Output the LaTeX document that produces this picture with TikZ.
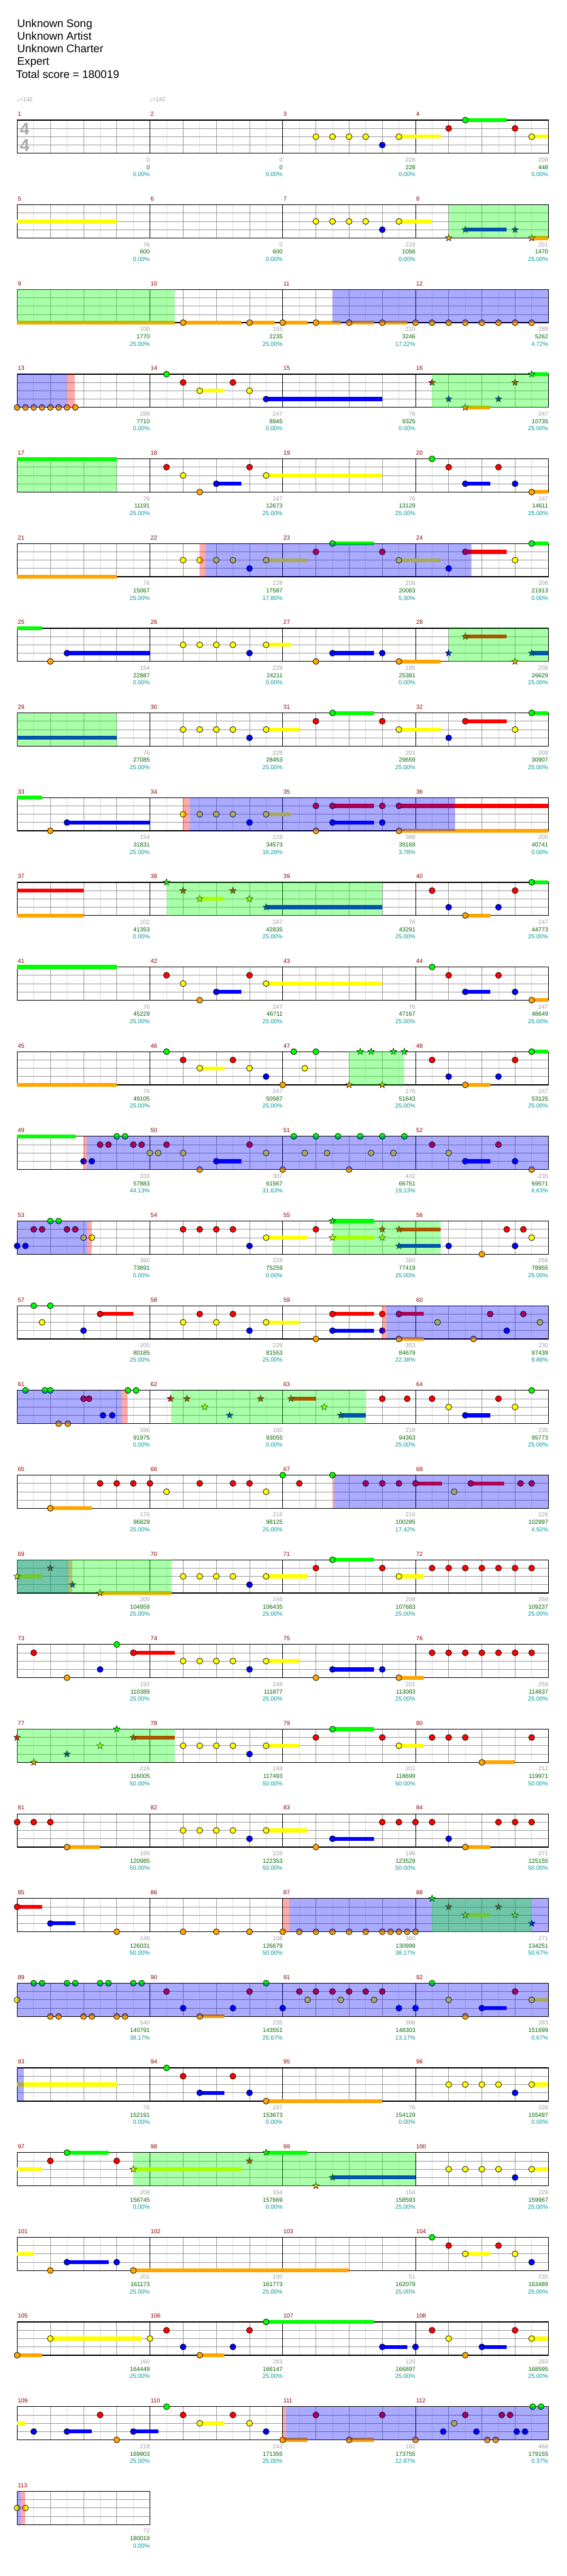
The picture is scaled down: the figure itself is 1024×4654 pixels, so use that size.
\documentclass[tikz,border=0pt]{standalone}
\usepackage{fontspec}
\setmainfont{Liberation Sans}
\newfontfamily\symf{DejaVu Sans}
\newcommand\smallf{\fontsize{10.7}{12}\selectfont}
\newcommand\hdrf{\fontsize{20}{23}\selectfont}
\definecolor{lc0}{RGB}{0,255,0}
\definecolor{lc1}{RGB}{255,0,0}
\definecolor{lc2}{RGB}{255,255,0}
\definecolor{lc3}{RGB}{0,0,255}
\definecolor{lc4}{RGB}{255,165,0}
\definecolor{mred}{RGB}{139,0,0}
\definecolor{sgray}{RGB}{160,160,160}
\definecolor{sgreen}{RGB}{0,100,0}
\definecolor{steal}{RGB}{0,150,150}
\definecolor{hbc}{RGB}{222,222,222}
\definecolor{gridc}{RGB}{153,153,153}
\definecolor{tsgray}{RGB}{170,170,170}
\tikzset{
  hbeat/.style={draw=hbc,line width=0.9pt},
  lanel/.style={draw=gridc,line width=0.9pt},
  beatl/.style={draw=gridc,line width=0.9pt},
  measl/.style={draw=black,line width=0.9pt},
  borderl/.style={draw=black,line width=1.4pt},
  mnum/.style={anchor=base west,font=\smallf,text=mred,inner sep=0pt,xshift=1pt,yshift=7pt},
  st1/.style={anchor=base east,font=\smallf,text=sgray,inner sep=0pt,yshift=-15.5pt},
  st2/.style={anchor=base east,font=\smallf,text=sgreen,inner sep=0pt,yshift=-29pt},
  st3/.style={anchor=base east,font=\smallf,text=steal,inner sep=0pt,yshift=-42pt},
  hdr/.style={anchor=base west,font=\hdrf,inner sep=0pt},
  tempo/.style={anchor=base west,font=\smallf,text=sgray,inner sep=0pt},
  tsig/.style={font=\fontsize{31}{31}\selectfont\bfseries,text=tsgray,inner sep=0pt}
}
\newcommand\Nt[2]{\filldraw[fill=lc#2,draw=black,line width=0.8pt] (#1,#2) circle[radius=5.4pt];}
\newcommand\Sr[2]{\begin{scope}[shift={(#1,#2)}]\filldraw[fill=lc#2,draw=black,line width=0.6pt] (90:6.3pt)--(126:2.6pt)--(162:6.3pt)--(198:2.6pt)--(234:6.3pt)--(270:2.6pt)--(306:6.3pt)--(342:2.6pt)--(18:6.3pt)--(54:2.6pt)--cycle;\end{scope}}
\newcommand\Su[3]{\draw[lc#3,line width=7pt] (#1,#3) -- (#2,#3);}
\newcommand\GZ[2]{\fill[lc0,opacity=0.333] (#1,0) rectangle (#2,4);}
\newcommand\BZ[2]{\fill[lc3,opacity=0.333] (#1,0) rectangle (#2,4);}
\newcommand\PZ[2]{\fill[lc1,opacity=0.333] (#1,0) rectangle (#2,4);}
\newcommand\Sc[4]{\node[st1] at ({8*#1},4) {#2};\node[st2] at ({8*#1},4) {#3};\node[st3] at ({8*#1},4) {#4\%};}
\newcommand\ChartRow[7]{%
\begin{scope}[shift={(31pt,{-217pt-153pt*(#1-1)})},x=30pt,y=-15pt]
\pgfmathtruncatemacro\nh{8*#3}%
\pgfmathtruncatemacro\nhm{\nh-1}%
\foreach \i in {1,3,...,\nhm} \draw[hbeat] (\i,0) -- (\i,4);
\foreach \l in {1,2,3} \draw[lanel] (0,\l) -- (\nh,\l);
\foreach \i in {2,4,...,\nh} \draw[beatl] (\i,0) -- (\i,4);
\ifnum#3>1 \foreach \i in {8,16,24} \draw[measl] (\i,0) -- (\i,4);\fi
\draw[borderl] (0,0) rectangle (\nh,4);
#4
#5
#6
\foreach \k in {1,...,#3} {\pgfmathtruncatemacro\mn{#2+\k-1}\node[mnum] at ({8*(\k-1)},0) {\mn};}
#7
\end{scope}}
\begin{document}
\begin{tikzpicture}[x=1pt,y=-1pt]
\useasboundingbox (0,0) rectangle (1024,4654);
\fill[white] (0,0) rectangle (1024,4654);
\node[hdr] (title) at (31,49) {Unknown Song};
\node[hdr] (artist) at (31,72) {Unknown Artist};
\node[hdr] (charter) at (31,95) {Unknown Charter};
\node[hdr] (diff) at (31,118) {Expert};
\node[hdr] (total) at (29,141) {Total score = 180019};
\node[tempo] (tA) at (30,184) {{\symf ♩}=142};
\node[tempo] (tB) at (270,184) {{\symf ♩}=142};
% Row 1
\ChartRow{1}{1}{4}{\node[tsig] (tsA) at (0.45,1.1) {4};\node[tsig] (tsB) at (0.45,3.07) {4};
\Su{23}{25.5}{2}\Su{27}{29.5}{0}\Su{31}{32}{2}}
{\Nt{18}{2}\Nt{19}{2}\Nt{20}{2}\Nt{21}{2}\Nt{22}{3}\Nt{23}{2}\Nt{26}{1}\Nt{27}{0}\Nt{30}{1}\Nt{31}{2}}
{}
{\Sc{1}{0}{0}{0.00}\Sc{2}{0}{0}{0.00}\Sc{3}{228}{228}{0.00}\Sc{4}{208}{448}{0.00}}
% Row 2
\ChartRow{2}{5}{4}{\Su{0}{6}{2}\Su{23}{25}{2}\Su{27}{29.5}{3}\Su{31}{32}{4}}
{\Nt{18}{2}\Nt{19}{2}\Nt{20}{2}\Nt{21}{2}\Nt{22}{3}\Nt{23}{2}\Sr{26}{4}\Sr{27}{3}\Sr{30}{3}\Sr{31}{4}}
{\GZ{26}{32}}
{\Sc{1}{76}{600}{0.00}\Sc{2}{0}{600}{0.00}\Sc{3}{228}{1056}{0.00}\Sc{4}{201}{1470}{25.00}}
% Row 3
\ChartRow{3}{9}{4}{\Su{0}{9.5}{4}\Su{10}{13.5}{4}\Su{14}{15.5}{4}\Su{16}{17.5}{4}\Su{18}{19.5}{4}\Su{20}{21.5}{4}\Su{22}{23.5}{4}}
{\Nt{10}{4}\Nt{14}{4}\Nt{16}{4}\Nt{18}{4}\Nt{20}{4}\Nt{22}{4}\Nt{24}{4}\Nt{25}{4}\Nt{26}{4}\Nt{27}{4}\Nt{28}{4}\Nt{29}{4}\Nt{30}{4}\Nt{31}{4}}
{\GZ{0}{9.5}\BZ{19}{32}}
{\Sc{1}{100}{1770}{25.00}\Sc{2}{155}{2235}{25.00}\Sc{3}{220}{3246}{17.22}\Sc{4}{288}{5262}{4.72}}
% Row 4
\ChartRow{4}{13}{4}{\Su{11}{12.5}{2}\Su{15}{22}{3}\Su{27}{28.5}{4}\Su{31}{32}{0}}
{\Nt{0}{4}\Nt{0.5}{4}\Nt{1}{4}\Nt{1.5}{4}\Nt{2}{4}\Nt{2.5}{4}\Nt{3}{4}\Nt{3.5}{4}\Nt{9}{0}\Nt{10}{1}\Nt{11}{2}\Nt{13}{1}\Nt{14}{2}\Nt{15}{3}\Sr{25}{1}\Sr{26}{3}\Sr{27}{4}\Sr{29}{3}\Sr{30}{1}\Sr{31}{0}}
{\BZ{0}{3}\PZ{3}{3.47}\GZ{25}{32}}
{\Sc{1}{288}{7710}{0.00}\Sc{2}{247}{8945}{0.00}\Sc{3}{76}{9325}{0.00}\Sc{4}{247}{10735}{25.00}}
% Row 5
\ChartRow{5}{17}{4}{\Su{0}{6}{0}\Su{12}{13.5}{3}\Su{15}{22}{2}\Su{27}{28.5}{3}\Su{31}{32}{4}}
{\Nt{9}{1}\Nt{10}{2}\Nt{11}{4}\Nt{12}{3}\Nt{14}{1}\Nt{15}{2}\Nt{25}{0}\Nt{26}{1}\Nt{27}{3}\Nt{29}{1}\Nt{30}{3}\Nt{31}{4}}
{\GZ{0}{6}}
{\Sc{1}{76}{11191}{25.00}\Sc{2}{247}{12673}{25.00}\Sc{3}{76}{13129}{25.00}\Sc{4}{247}{14611}{25.00}}
% Row 6
\ChartRow{6}{21}{4}{\Su{0}{6}{4}\Su{15}{17.5}{2}\Su{19}{21.5}{0}\Su{23}{25.5}{2}\Su{27}{29.5}{1}\Su{31}{32}{0}}
{\Nt{10}{2}\Nt{11}{2}\Nt{12}{2}\Nt{13}{2}\Nt{14}{3}\Nt{15}{2}\Nt{18}{1}\Nt{19}{0}\Nt{22}{1}\Nt{23}{2}\Nt{26}{3}\Nt{27}{1}\Nt{30}{2}\Nt{31}{0}}
{\PZ{11}{11.37}\BZ{11.37}{27.37}}
{\Sc{1}{76}{15067}{25.00}\Sc{2}{228}{17587}{17.80}\Sc{3}{208}{20083}{5.30}\Sc{4}{208}{21913}{0.00}}
% Row 7
\ChartRow{7}{25}{4}{\Su{0}{1.5}{0}\Su{3}{8}{3}\Su{15}{16.5}{2}\Su{19}{21.5}{3}\Su{23}{25.5}{4}\Su{27}{29.5}{1}\Su{31}{32}{3}}
{\Nt{2}{4}\Nt{3}{3}\Nt{10}{2}\Nt{11}{2}\Nt{12}{2}\Nt{13}{2}\Nt{14}{3}\Nt{15}{2}\Nt{18}{4}\Nt{19}{3}\Nt{22}{3}\Nt{23}{4}\Sr{26}{3}\Sr{27}{1}\Sr{30}{4}\Sr{31}{3}}
{\GZ{26}{32}}
{\Sc{1}{154}{22887}{0.00}\Sc{2}{229}{24211}{0.00}\Sc{3}{195}{25381}{0.00}\Sc{4}{208}{26629}{25.00}}
% Row 8
\ChartRow{8}{29}{4}{\Su{0}{6}{3}\Su{15}{17}{2}\Su{19}{21.5}{0}\Su{23}{25.5}{2}\Su{27}{29.5}{1}\Su{31}{32}{0}}
{\Nt{10}{2}\Nt{11}{2}\Nt{12}{2}\Nt{13}{2}\Nt{14}{3}\Nt{15}{2}\Nt{18}{1}\Nt{19}{0}\Nt{22}{1}\Nt{23}{2}\Nt{26}{3}\Nt{27}{1}\Nt{30}{2}\Nt{31}{0}}
{\GZ{0}{6}}
{\Sc{1}{76}{27085}{25.00}\Sc{2}{228}{28453}{25.00}\Sc{3}{201}{29659}{25.00}\Sc{4}{208}{30907}{25.00}}
% Row 9
\ChartRow{9}{33}{4}{\Su{0}{1.5}{0}\Su{3}{8}{3}\Su{15}{16.5}{2}\Su{19}{21.5}{1}\Su{19}{21.5}{3}\Su{23}{32}{1}\Su{23}{32}{4}}
{\Nt{2}{4}\Nt{3}{3}\Nt{10}{2}\Nt{11}{2}\Nt{12}{2}\Nt{13}{2}\Nt{14}{3}\Nt{15}{2}\Nt{18}{1}\Nt{18}{4}\Nt{19}{1}\Nt{19}{3}\Nt{22}{1}\Nt{22}{3}\Nt{23}{1}\Nt{23}{4}}
{\PZ{10}{10.4}\BZ{10.4}{26.4}}
{\Sc{1}{154}{31831}{25.00}\Sc{2}{229}{34573}{16.28}\Sc{3}{388}{39169}{3.78}\Sc{4}{200}{40741}{0.00}}
% Row 10
\ChartRow{10}{37}{4}{\Su{0}{4}{1}\Su{0}{4}{4}\Su{11}{12.5}{2}\Su{15}{22}{3}\Su{27}{28.5}{4}\Su{31}{32}{0}}
{\Sr{9}{0}\Sr{10}{1}\Sr{11}{2}\Sr{13}{1}\Sr{14}{2}\Sr{15}{3}\Nt{25}{1}\Nt{26}{3}\Nt{27}{4}\Nt{29}{3}\Nt{30}{1}\Nt{31}{0}}
{\GZ{9}{22}}
{\Sc{1}{102}{41353}{0.00}\Sc{2}{247}{42835}{25.00}\Sc{3}{76}{43291}{25.00}\Sc{4}{247}{44773}{25.00}}
% Row 11
\ChartRow{11}{41}{4}{\Su{0}{6}{0}\Su{12}{13.5}{3}\Su{15}{22}{2}\Su{27}{28.5}{3}\Su{31}{32}{4}}
{\Nt{9}{1}\Nt{10}{2}\Nt{11}{4}\Nt{12}{3}\Nt{14}{1}\Nt{15}{2}\Nt{25}{0}\Nt{26}{1}\Nt{27}{3}\Nt{29}{1}\Nt{30}{3}\Nt{31}{4}}
{}
{\Sc{1}{76}{45229}{25.00}\Sc{2}{247}{46711}{25.00}\Sc{3}{76}{47167}{25.00}\Sc{4}{247}{48649}{25.00}}
% Row 12
\ChartRow{12}{45}{4}{\Su{0}{6}{4}\Su{11}{12.5}{2}\Su{27}{28.5}{4}\Su{31}{32}{0}}
{\Nt{9}{0}\Nt{10}{1}\Nt{11}{2}\Nt{13}{1}\Nt{14}{2}\Nt{15}{3}\Nt{16}{4}\Nt{16.67}{0}\Nt{17.33}{2}\Nt{18}{0}\Sr{20}{4}\Sr{20.67}{0}\Sr{21.33}{0}\Sr{22}{4}\Sr{22.67}{0}\Sr{23.33}{0}\Nt{25}{1}\Nt{26}{3}\Nt{27}{4}\Nt{29}{3}\Nt{30}{1}\Nt{31}{0}}
{\GZ{20}{23.33}}
{\Sc{1}{76}{49105}{25.00}\Sc{2}{247}{50587}{25.00}\Sc{3}{176}{51643}{25.00}\Sc{4}{247}{53125}{25.00}}
% Row 13
\ChartRow{13}{49}{4}{\Su{0}{3.5}{0}\Su{12}{13.5}{3}\Su{27}{28.5}{3}}
{\Nt{4}{3}\Nt{4.5}{3}\Nt{5}{1}\Nt{5.5}{1}\Nt{6}{0}\Nt{6.5}{0}\Nt{7}{1}\Nt{7.5}{1}\Nt{8}{2}\Nt{8.5}{2}\Nt{9}{1}\Nt{10}{2}\Nt{11}{4}\Nt{12}{3}\Nt{14}{1}\Nt{15}{2}\Nt{16}{4}\Nt{16.67}{0}\Nt{17.33}{2}\Nt{18}{0}\Nt{18.67}{2}\Nt{19.33}{0}\Nt{20}{4}\Nt{20.67}{0}\Nt{21.33}{2}\Nt{22}{0}\Nt{22.67}{2}\Nt{23.33}{0}\Nt{25}{1}\Nt{26}{2}\Nt{27}{3}\Nt{29}{1}\Nt{30}{3}\Nt{31}{4}}
{\PZ{4}{4.2}\BZ{4.2}{32}}
{\Sc{1}{333}{57883}{44.13}\Sc{2}{307}{61567}{31.63}\Sc{3}{432}{66751}{19.13}\Sc{4}{235}{69571}{6.63}}
% Row 14
\ChartRow{14}{53}{4}{\Su{15}{17.5}{2}\Su{19}{21.5}{0}\Su{19}{21.5}{2}\Su{23}{25.5}{1}\Su{23}{25.5}{3}}
{\Nt{0}{3}\Nt{0.5}{3}\Nt{1}{1}\Nt{1.5}{1}\Nt{2}{0}\Nt{2.5}{0}\Nt{3}{1}\Nt{3.5}{1}\Nt{4}{2}\Nt{4.5}{2}\Nt{10}{1}\Nt{11}{1}\Nt{12}{1}\Nt{13}{1}\Nt{14}{3}\Nt{15}{2}\Nt{18}{1}\Sr{19}{0}\Sr{19}{2}\Sr{22}{1}\Sr{22}{2}\Sr{23}{1}\Sr{23}{3}\Nt{26}{3}\Nt{28}{4}\Nt{29.5}{1}\Nt{30}{3}\Nt{30.5}{1}\Nt{31}{2}}
{\BZ{0}{4.22}\PZ{4.22}{4.48}\GZ{19}{25.5}}
{\Sc{1}{360}{73891}{0.00}\Sc{2}{228}{75259}{0.00}\Sc{3}{360}{77419}{25.00}\Sc{4}{256}{78955}{25.00}}
% Row 15
\ChartRow{15}{57}{4}{\Su{5}{7}{1}\Su{15}{17}{2}\Su{19}{21.5}{1}\Su{19}{21.5}{3}\Su{23}{24.5}{1}\Su{23}{24.5}{4}}
{\Nt{1}{0}\Nt{1.5}{2}\Nt{2}{0}\Nt{4}{3}\Nt{5}{1}\Nt{10}{2}\Nt{11}{1}\Nt{12}{2}\Nt{13}{1}\Nt{14}{3}\Nt{15}{2}\Nt{18}{4}\Nt{19}{1}\Nt{19}{3}\Nt{22}{1}\Nt{22}{3}\Nt{23}{1}\Nt{23}{4}\Nt{25.33}{2}\Nt{27.5}{4}\Nt{28.5}{1}\Nt{29.5}{3}\Nt{30.5}{1}\Nt{31.5}{2}}
{\PZ{22}{22.27}\BZ{22.27}{32}}
{\Sc{1}{205}{80185}{25.00}\Sc{2}{228}{81553}{25.00}\Sc{3}{353}{84679}{22.38}\Sc{4}{230}{87439}{9.88}}
% Row 16
\ChartRow{16}{61}{4}{\Su{16.5}{18}{1}\Su{19.5}{21}{3}\Su{27}{28.5}{3}}
{\Nt{0.5}{0}\Nt{1.67}{0}\Nt{2}{0}\Nt{2.5}{4}\Nt{3.05}{4}\Nt{4}{1}\Nt{4.33}{1}\Nt{5.17}{3}\Nt{5.73}{3}\Nt{6.67}{0}\Nt{7.17}{0}\Sr{9.25}{1}\Sr{10.23}{1}\Sr{11.3}{2}\Sr{12.8}{3}\Sr{14.67}{1}\Sr{16.5}{1}\Sr{18.5}{2}\Sr{19.5}{3}\Nt{22}{1}\Nt{23.5}{1}\Nt{25}{1}\Nt{26}{2}\Nt{27}{3}\Nt{29}{1}\Nt{30}{2}\Nt{31}{0}}
{\BZ{0}{6.3}\PZ{6.3}{6.67}\GZ{9.25}{21}}
{\Sc{1}{396}{91975}{0.00}\Sc{2}{180}{93055}{0.00}\Sc{3}{218}{94363}{25.00}\Sc{4}{235}{95773}{25.00}}
% Row 17
\ChartRow{17}{65}{4}{\Su{2}{4.5}{4}\Su{24}{25.6}{1}\Su{27.33}{29.33}{1}}
{\Nt{2}{4}\Nt{5}{1}\Nt{6}{1}\Nt{7}{1}\Nt{8}{1}\Nt{9}{2}\Nt{11}{1}\Nt{13}{1}\Nt{14}{1}\Nt{15}{2}\Nt{16}{0}\Nt{17}{1}\Nt{19}{0}\Nt{21}{1}\Nt{22}{1}\Nt{23}{1}\Nt{24}{1}\Nt{26.33}{2}\Nt{27.33}{1}\Nt{30.33}{1}\Nt{31}{1}}
{\PZ{19}{19.1}\BZ{19.1}{32}}
{\Sc{1}{176}{96829}{25.00}\Sc{2}{216}{98125}{25.00}\Sc{3}{216}{100285}{17.42}\Sc{4}{226}{102997}{4.92}}
% Row 18
\ChartRow{18}{69}{4}{\Su{0}{1.5}{2}\Su{5}{9.3}{4}\Su{15}{17.5}{2}\Su{19}{21.5}{0}\Su{23}{24.5}{2}}
{\Sr{0}{2}\Sr{2}{1}\Sr{3.33}{3}\Sr{5}{4}\Nt{10}{2}\Nt{11}{2}\Nt{12}{2}\Nt{13}{2}\Nt{14}{3}\Nt{15}{2}\Nt{18}{1}\Nt{19}{0}\Nt{22}{1}\Nt{23}{2}\Nt{25}{1}\Nt{26}{1}\Nt{27}{1}\Nt{28}{1}\Nt{29}{1}\Nt{30}{1}\Nt{31}{1}}
{\BZ{0}{3.1}\PZ{3.1}{3.33}\GZ{0}{9.3}}
{\Sc{1}{200}{104959}{25.00}\Sc{2}{246}{106435}{25.00}\Sc{3}{208}{107683}{25.00}\Sc{4}{259}{109237}{25.00}}
% Row 19
\ChartRow{19}{73}{4}{\Su{7}{9.5}{1}\Su{15}{17}{2}\Su{19}{21.5}{3}\Su{23}{24.5}{4}}
{\Nt{1}{1}\Nt{3}{4}\Nt{5}{3}\Nt{6}{0}\Nt{7}{1}\Nt{10}{2}\Nt{11}{2}\Nt{12}{2}\Nt{13}{2}\Nt{14}{3}\Nt{15}{2}\Nt{18}{4}\Nt{19}{3}\Nt{22}{3}\Nt{23}{4}\Nt{25}{1}\Nt{26}{1}\Nt{27}{1}\Nt{28}{1}\Nt{29}{1}\Nt{30}{1}\Nt{31}{1}}
{}
{\Sc{1}{192}{110389}{25.00}\Sc{2}{248}{111877}{25.00}\Sc{3}{201}{113083}{25.00}\Sc{4}{259}{114637}{25.00}}
% Row 20
\ChartRow{20}{77}{4}{\Su{7}{9.5}{1}\Su{15}{17}{2}\Su{19}{21.5}{0}\Su{23}{24.5}{2}\Su{28}{30}{4}}
{\Sr{0}{1}\Sr{1}{4}\Sr{3}{3}\Sr{5}{2}\Sr{6}{0}\Sr{7}{1}\Nt{10}{2}\Nt{11}{2}\Nt{12}{2}\Nt{13}{2}\Nt{14}{3}\Nt{15}{2}\Nt{18}{1}\Nt{19}{0}\Nt{22}{1}\Nt{23}{2}\Nt{25}{1}\Nt{26}{1}\Nt{27}{1}\Nt{28}{4}\Nt{31}{1}}
{\GZ{0}{9.5}}
{\Sc{1}{228}{116005}{50.00}\Sc{2}{248}{117493}{50.00}\Sc{3}{201}{118699}{50.00}\Sc{4}{212}{119971}{50.00}}
% Row 21
\ChartRow{21}{81}{4}{\Su{3}{5}{4}\Su{15}{17.5}{2}\Su{19}{21.5}{3}\Su{27}{28.5}{4}}
{\Nt{0}{1}\Nt{1}{1}\Nt{2}{1}\Nt{3}{4}\Nt{10}{2}\Nt{11}{2}\Nt{12}{2}\Nt{13}{2}\Nt{14}{3}\Nt{15}{2}\Nt{18}{4}\Nt{19}{3}\Nt{22}{1}\Nt{23}{1}\Nt{24}{1}\Nt{25}{1}\Nt{26}{3}\Nt{27}{4}\Nt{29}{1}\Nt{30}{1}\Nt{31}{1}}
{}
{\Sc{1}{169}{120985}{50.00}\Sc{2}{228}{122353}{50.00}\Sc{3}{196}{123529}{50.00}\Sc{4}{271}{125155}{50.00}}
% Row 22
\ChartRow{22}{85}{4}{\Su{0}{1.5}{1}\Su{2}{3.5}{3}\Su{27}{28.5}{2}}
{\Nt{0}{1}\Nt{2}{3}\Nt{6}{4}\Nt{10}{4}\Nt{12}{4}\Nt{14}{4}\Nt{16}{4}\Nt{17}{4}\Nt{18}{4}\Nt{19}{4}\Nt{20}{4}\Nt{21}{4}\Nt{22}{4}\Nt{22.5}{4}\Nt{23}{4}\Nt{23.5}{4}\Nt{24}{4}\Sr{25}{0}\Sr{26}{1}\Sr{27}{2}\Sr{29}{1}\Sr{30}{2}\Sr{31}{3}}
{\PZ{16}{16.4}\BZ{16.4}{32}\GZ{25}{31}}
{\Sc{1}{146}{126031}{50.00}\Sc{2}{108}{126679}{50.00}\Sc{3}{360}{130999}{38.17}\Sc{4}{271}{134251}{50.67}}
% Row 23
\ChartRow{23}{89}{4}{\Su{11}{12.5}{4}\Su{28}{29.5}{3}\Su{31}{32}{2}}
{\Nt{0}{2}\Nt{1}{0}\Nt{1.5}{0}\Nt{2}{4}\Nt{2.5}{4}\Nt{3}{0}\Nt{3.5}{0}\Nt{4}{4}\Nt{4.5}{4}\Nt{5}{0}\Nt{5.5}{0}\Nt{6}{4}\Nt{6.5}{4}\Nt{7}{0}\Nt{7.5}{0}\Nt{9}{1}\Nt{10}{3}\Nt{11}{4}\Nt{13}{3}\Nt{14}{1}\Nt{15}{0}\Nt{16}{3}\Nt{17}{1}\Nt{17.5}{2}\Nt{18}{1}\Nt{19}{1}\Nt{19.5}{2}\Nt{20}{1}\Nt{21}{1}\Nt{21.5}{2}\Nt{22}{1}\Nt{23}{3}\Nt{24}{3}\Nt{25}{0}\Nt{26}{2}\Nt{27}{4}\Nt{28}{3}\Nt{30}{1}\Nt{31}{2}}
{\BZ{0}{32}}
{\Sc{1}{540}{140791}{38.17}\Sc{2}{235}{143551}{25.67}\Sc{3}{396}{148303}{13.17}\Sc{4}{283}{151699}{0.67}}
% Row 24
\ChartRow{24}{93}{4}{\Su{0}{6}{2}\Su{11}{12.5}{3}\Su{15}{22}{4}\Su{31}{32}{2}}
{\Nt{9}{0}\Nt{10}{1}\Nt{11}{3}\Nt{13}{1}\Nt{14}{3}\Nt{15}{4}\Nt{26}{2}\Nt{27}{2}\Nt{28}{2}\Nt{29}{2}\Nt{30}{3}\Nt{31}{2}}
{\BZ{0}{0.41}}
{\Sc{1}{76}{152191}{0.00}\Sc{2}{247}{153673}{0.00}\Sc{3}{76}{154129}{0.00}\Sc{4}{228}{155497}{0.00}}
% Row 25
\ChartRow{25}{97}{4}{\Su{0}{1.5}{2}\Su{3}{5.5}{0}\Su{7}{13.5}{2}\Su{15}{17.5}{0}\Su{19}{24}{3}\Su{31}{32}{2}}
{\Nt{2}{1}\Nt{3}{0}\Nt{6}{1}\Sr{7}{2}\Sr{14}{1}\Sr{15}{0}\Sr{18}{4}\Sr{19}{3}\Nt{26}{2}\Nt{27}{2}\Nt{28}{2}\Nt{29}{2}\Nt{30}{3}\Nt{31}{2}}
{\GZ{7}{24}}
{\Sc{1}{208}{156745}{0.00}\Sc{2}{154}{157669}{0.00}\Sc{3}{154}{158593}{25.00}\Sc{4}{229}{159967}{25.00}}
% Row 26
\ChartRow{26}{101}{4}{\Su{0}{1}{2}\Su{3}{5.5}{3}\Su{7}{20}{4}\Su{27}{28.5}{2}}
{\Nt{2}{4}\Nt{3}{3}\Nt{6}{3}\Nt{7}{4}\Nt{25}{0}\Nt{26}{1}\Nt{27}{2}\Nt{29}{1}\Nt{30}{2}\Nt{31}{3}}
{}
{\Sc{1}{201}{161173}{25.00}\Sc{2}{100}{161773}{25.00}\Sc{3}{51}{162079}{25.00}\Sc{4}{235}{163489}{25.00}}
% Row 27
\ChartRow{27}{105}{4}{\Su{0}{1.5}{4}\Su{2}{7.5}{2}\Su{11}{12.5}{4}\Su{15}{21.5}{0}\Su{22}{23.5}{3}\Su{28}{29.5}{3}\Su{31}{32}{2}}
{\Nt{0}{4}\Nt{2}{2}\Nt{8}{2}\Nt{9}{1}\Nt{10}{3}\Nt{11}{4}\Nt{13}{3}\Nt{14}{1}\Nt{15}{0}\Nt{22}{3}\Nt{24}{3}\Nt{25}{1}\Nt{26}{2}\Nt{27}{4}\Nt{28}{3}\Nt{30}{1}\Nt{31}{2}}
{}
{\Sc{1}{160}{164449}{25.00}\Sc{2}{283}{166147}{25.00}\Sc{3}{125}{166897}{25.00}\Sc{4}{283}{168595}{25.00}}
% Row 28
\ChartRow{28}{109}{4}{\Su{0}{0.5}{2}\Su{3}{4.5}{3}\Su{7}{8.5}{3}\Su{11}{12.5}{2}\Su{16}{17.5}{4}\Su{20}{21.5}{4}}
{\Nt{1}{3}\Nt{3}{3}\Nt{5}{1}\Nt{6}{4}\Nt{7}{3}\Nt{9}{0}\Nt{10}{1}\Nt{11}{2}\Nt{13}{1}\Nt{14}{2}\Nt{15}{3}\Nt{16}{4}\Nt{18}{1}\Nt{20}{4}\Nt{22}{1}\Nt{24}{4}\Nt{25.67}{3}\Nt{26.33}{2}\Nt{27}{1}\Nt{27.67}{3}\Nt{28.33}{4}\Nt{28.83}{4}\Nt{29.2}{1}\Nt{29.7}{1}\Nt{30.1}{3}\Nt{30.6}{3}\Nt{31.06}{0}\Nt{31.56}{0}}
{\PZ{16}{16.2}\BZ{16.2}{32}}
{\Sc{1}{218}{169903}{25.00}\Sc{2}{242}{171355}{25.00}\Sc{3}{182}{173755}{12.87}\Sc{4}{468}{179155}{0.37}}
% Row 29
\ChartRow{29}{113}{1}{}
{\Nt{0}{2}\Nt{0.5}{2}}
{\BZ{0}{0.22}\PZ{0.22}{0.49}}
{\Sc{1}{72}{180019}{0.00}}
\end{tikzpicture}
\end{document}
